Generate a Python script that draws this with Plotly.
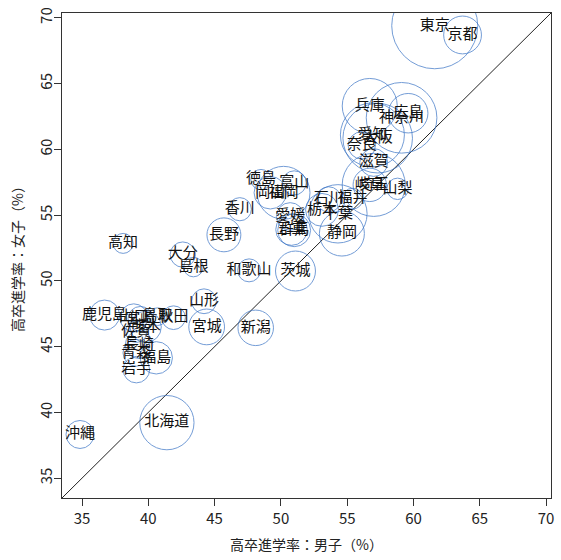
import plotly.graph_objects as go
import numpy as np

prefs = ["東京", "京都", "兵庫", "神奈川", "広島", "愛知", "大阪", "奈良", "滋賀",
         "岐阜", "埼玉", "山梨", "徳島", "富山", "岡山", "福岡", "石川", "福井",
         "栃木", "千葉", "香川", "愛媛", "三重", "群馬", "静岡", "長野", "高知",
         "大分", "島根", "和歌山", "茨城", "山形", "鹿児島", "山口", "宮崎", "鳥取",
         "秋田", "宮城", "熊本", "新潟", "佐賀", "長崎", "青森", "福島", "岩手",
         "北海道", "沖縄"]

male = [61.6, 63.7, 56.7, 59.1, 59.6, 56.9, 57.3, 56.1, 57.0,
        56.7, 57.0, 58.8, 48.5, 51.0, 49.2, 50.2, 53.6, 55.4,
        53.1, 54.3, 46.9, 50.7, 50.8, 51.0, 54.6, 45.7, 38.1,
        42.6, 43.4, 47.6, 51.1, 44.2, 36.7, 38.9, 39.4, 40.7,
        41.9, 44.4, 39.8, 48.1, 39.1, 39.3, 39.1, 40.6, 39.1,
        41.4, 34.85]

female = [69.4, 68.7, 63.3, 62.4, 62.75, 61.1, 60.85, 60.3, 59.0,
          57.3, 57.3, 57.0, 57.7, 57.45, 56.7, 56.7, 56.2, 56.25,
          55.4, 55.1, 55.45, 54.9, 53.9, 53.85, 53.6, 53.5, 52.85,
          52.0, 51.05, 50.8, 50.75, 48.45, 47.4, 47.2, 47.12, 47.28,
          47.2, 46.5, 46.5, 46.43, 46.13, 45.14, 44.53, 44.15, 43.25,
          39.22, 38.32]

population = [13515, 2610, 5535, 9126, 2844, 7483, 8839, 1364, 1413,
              2032, 7267, 835, 756, 1066, 1922, 5102, 1154, 787,
              1974, 6223, 976, 1385, 1816, 1973, 3700, 2099, 728,
              1166, 694, 964, 2917, 1124, 1648, 1405, 1104, 573,
              1023, 2334, 1786, 2304, 833, 1377, 1308, 1914, 1280,
              5382, 1434]

tick_vals = [35, 40, 45, 50, 55, 60, 65, 70]
axis_range = [33.49, 70.37]

FONT = "Noto Sans CJK JP"
sizes = np.sqrt(np.array(population, dtype=float))

fig = go.Figure()
fig.add_trace(go.Scatter(
    x=axis_range, y=axis_range, mode="lines",
    line=dict(color="#222222", width=1), hoverinfo="skip", showlegend=False))
fig.add_trace(go.Scatter(
    x=male, y=female, mode="markers+text", text=prefs,
    textposition="middle center",
    textfont=dict(family=FONT, size=15, color="#111111"),
    marker=dict(size=sizes, sizemode="diameter", sizeref=sizes.max() / 86,
                color="rgba(0,0,0,0)",
                line=dict(color="#3a74c6", width=1)),
    showlegend=False))

axis_common = dict(
    range=axis_range, tickvals=tick_vals, ticks="outside", ticklen=7,
    tickcolor="#333333", showline=True, linecolor="#333333", linewidth=1,
    mirror=True, showgrid=False, zeroline=False,
    tickfont=dict(family=FONT, size=15, color="#222222"),
)

fig.update_layout(
    width=561, height=560,
    margin=dict(l=62, r=10, t=7, b=62),
    plot_bgcolor="white", paper_bgcolor="white",
    font=dict(family=FONT),
    xaxis=dict(**axis_common,
               title=dict(text="高卒進学率：男子（%）", standoff=13,
                          font=dict(family=FONT, size=14, color="#222222"))),
    yaxis=dict(**axis_common, tickangle=-90, ticklabelstandoff=-4,
               title=dict(text="高卒進学率：女子（%）", standoff=8,
                          font=dict(family=FONT, size=14, color="#222222"))),
)

fig.write_html("out.html")
